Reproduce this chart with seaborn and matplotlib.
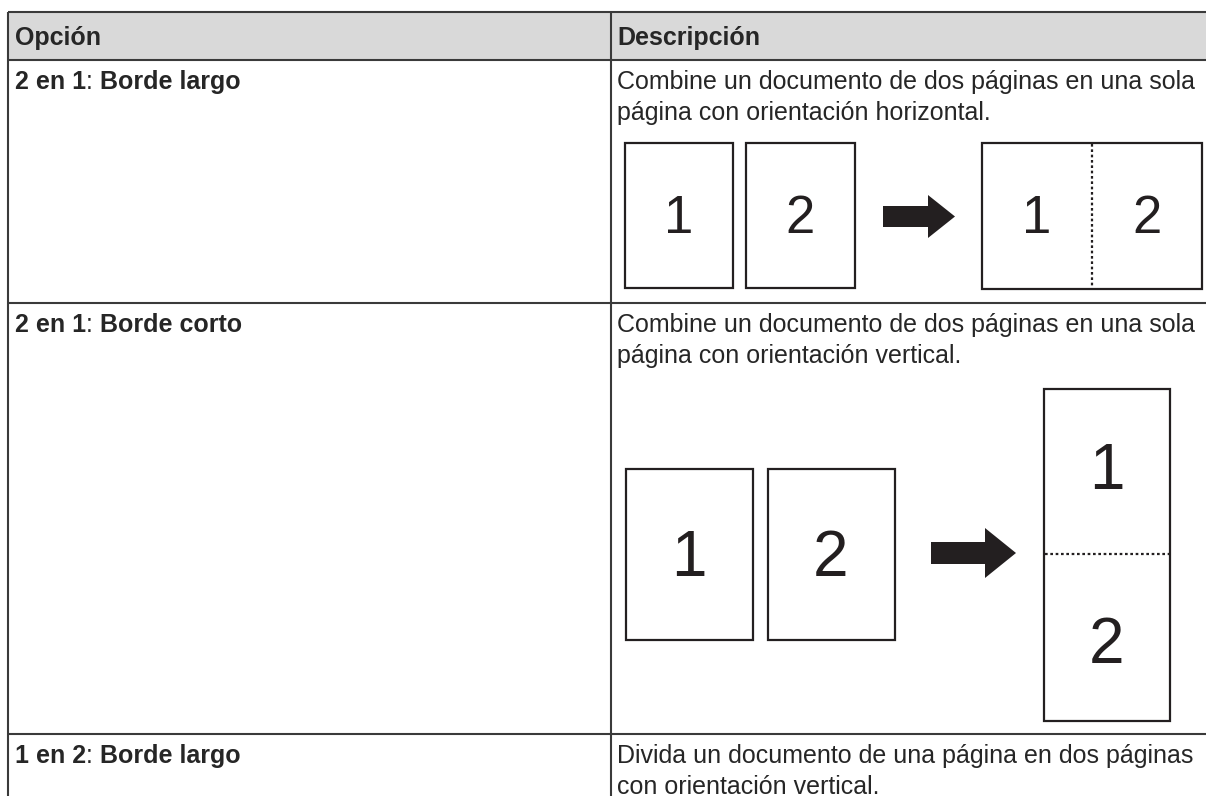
import matplotlib.pyplot as plt
import matplotlib.patches as mpatches
import seaborn as sns

sns.set_theme(style="white")
plt.rcParams['font.family'] = ['Liberation Sans', 'DejaVu Sans']

# table content
header = ["Opción", "Descripción"]
option_num = ["2 en 1", "2 en 1", "1 en 2"]
option_edge = ["Borde largo", "Borde corto", "Borde largo"]
descriptions = [
    ["Combine un documento de dos páginas en una sola", "página con orientación horizontal."],
    ["Combine un documento de dos páginas en una sola", "página con orientación vertical."],
    ["Divida un documento de una página en dos páginas", "con orientación vertical."],
]
page_labels = ["1", "2"]

# layout in pixels (axes spans the whole figure, 1 unit = 1 px)
W, H = 1206, 796
row_edges = [12, 60, 303, 734]
left_x, col_x = 8, 611
text_pad, line_gap = 29, 31
font_size = 18
line_col = "#3a3a3a"
ink = "#231f20"

fig = plt.figure(figsize=(W / 100, H / 100), dpi=100)
ax = fig.add_axes([0, 0, 1, 1])
ax.set_xlim(0, W)
ax.set_ylim(H, 0)
ax.axis("off")
renderer = fig.canvas.get_renderer()

# header band and grid
ax.add_patch(mpatches.Rectangle((left_x, row_edges[0]), W - left_x, row_edges[1] - row_edges[0],
                                facecolor="#d9d9d9", edgecolor="none"))
for y in row_edges:
    ax.plot([left_x, W], [y, y], color=line_col, lw=1.5, solid_capstyle="butt")
for x in (left_x, col_x):
    ax.plot([x, x], [row_edges[0], H], color=line_col, lw=1.5, solid_capstyle="butt")

# header text
ax.text(15, row_edges[0] + 33, header[0], fontsize=font_size, fontweight="bold", va="baseline")
ax.text(617, row_edges[0] + 33, header[1], fontsize=font_size, fontweight="bold", va="baseline")


def mixed_label(x, y, parts):
    # parts: list of (text, weight), drawn one after another on the same baseline
    for s, w in parts:
        t = ax.text(x, y, s, fontsize=font_size, fontweight=w, va="baseline")
        x += t.get_window_extent(renderer).width


for i in range(3):
    base = row_edges[i + 1] + text_pad
    mixed_label(15, base, [(option_num[i], "bold"), (": ", "normal"), (option_edge[i], "bold")])
    for k, line in enumerate(descriptions[i]):
        ax.text(617, base + k * line_gap, line, fontsize=font_size, va="baseline")


def page(x0, y0, x1, y1):
    ax.add_patch(mpatches.Rectangle((x0, y0), x1 - x0, y1 - y0, facecolor="white",
                                    edgecolor=ink, lw=1.6))


def digit(x, y, s, size):
    ax.text(x, y, s, fontsize=size, ha="center", va="baseline", color=ink)


def arrow(x0, x1, y, shaft, head_w, head_l):
    ax.add_patch(mpatches.FancyArrow(x0, y, x1 - x0, 0, width=shaft, head_width=head_w,
                                     head_length=head_l, length_includes_head=True,
                                     color=ink, lw=0))


# row 1: two portrait pages -> one landscape page
page(625, 143, 733, 288)
page(746, 143, 855, 288)
digit(679, 233, page_labels[0], 38)
digit(800, 233, page_labels[1], 38)
arrow(883, 955, 216.5, 21, 43, 27)
page(982, 143, 1202, 289)
ax.plot([1092, 1092], [144, 288], color=ink, lw=1.6, linestyle=(0, (1.2, 1.2)))
digit(1037, 233, page_labels[0], 38)
digit(1147, 233, page_labels[1], 38)

# row 2: two portrait pages -> one tall page
page(626, 469, 753, 640)
page(768, 469, 895, 640)
digit(689, 576, page_labels[0], 46)
digit(831, 576, page_labels[1], 46)
arrow(931, 1016, 553, 22, 50, 31)
page(1044, 389, 1170, 721)
ax.plot([1045, 1169], [554, 554], color=ink, lw=1.6, linestyle=(0, (1.2, 1.2)))
digit(1107, 489, page_labels[0], 46)
digit(1107, 663, page_labels[1], 46)

fig.savefig("out.png", dpi=100)
